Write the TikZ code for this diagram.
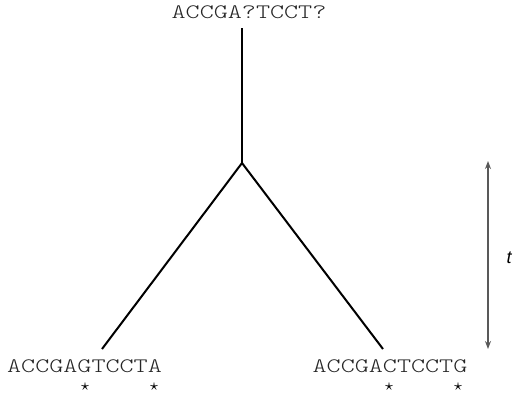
\documentclass[tikz,border=0pt]{standalone}
\usepackage{fontspec}
\newfontfamily\seqfont[FakeStretch=1.3]{Latin Modern Mono Light}
\newfontfamily\labfont{Liberation Sans}
\usetikzlibrary{arrows.meta}
\tikzset{
  seq/.style={inner sep=0pt, anchor=base, text=black!85, font=\seqfont\fontsize{10.3}{12}\selectfont},
  starmark/.style={inner sep=0pt, font=\fontsize{8}{8}\selectfont},
  branch/.style={line width=1pt, black},
  timearrow/.style={line width=0.7pt, draw=black!65, {Stealth[length=4pt,width=3pt]}-{Stealth[length=4pt,width=3pt]}}
}
\begin{document}
\begin{tikzpicture}[x=0.5pt,y=-0.5pt]
\useasboundingbox (0,0) rectangle (514,393);
\node[seq] (top) at (249,18.3) {ACCGA?TCCT?};
\node[seq] (left) at (84.5,372) {ACCGAGTCCTA};
\node[seq] (right) at (390,372) {ACCGACTCCTG};
\coordinate (root) at (242,28);
\coordinate (junc) at (242,163);
\coordinate (lend) at (102,349);
\coordinate (rend) at (383,349);
\draw[branch] (root) -- (junc);
\draw[branch] (junc) -- (lend);
\draw[branch] (junc) -- (rend);
\node[starmark] (s1) at (85,387) {$\star$};
\node[starmark] (s2) at (154,387) {$\star$};
\node[starmark] (s3) at (389,387) {$\star$};
\node[starmark] (s4) at (458,387) {$\star$};
\coordinate (atop) at (488,161);
\coordinate (abot) at (488,349);
\draw[timearrow] (atop) -- (abot);
\node[inner sep=0pt, font=\labfont\itshape\fontsize{9}{10}\selectfont] (t) at (509,258) {t};
\end{tikzpicture}
\end{document}
